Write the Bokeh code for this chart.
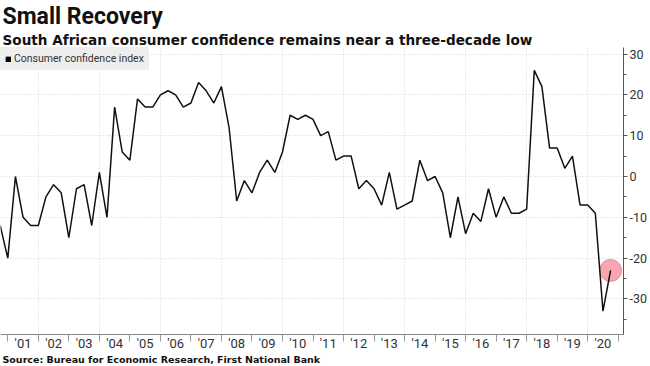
import math
from bokeh.plotting import figure
from bokeh.models import Range1d, FixedTicker, Title, Legend, LegendItem
from bokeh.embed import file_html
from bokeh.resources import INLINE

title_text = "Small Recovery"
subtitle_text = "South African consumer confidence remains near a three-decade low"
source_text = "Source: Bureau for Economic Research, First National Bank"
series_name = "Consumer confidence index"

start_year = 2000
start_quarter = 3
cci = [-12, -20, 0, -10, -12, -12, -5, -2, -4, -15, -3, -2, -12, 1, -10,
       17, 6, 4, 19, 17, 17, 20, 21, 20, 17, 18, 23, 21, 18, 22, 12, -6,
       -1, -4, 1, 4, 1, 6, 15, 14, 15, 14, 10, 11, 4, 5, 5, -3, -1, -3,
       -7, 1, -8, -7, -6, 4, -1, 0, -4, -15, -5, -14, -9, -11, -3, -10,
       -5, -9, -9, -8, 26, 22, 7, 7, 2, 5, -7, -7, -9, -33, -23]
year_labels = ["'01", "'02", "'03", "'04", "'05", "'06", "'07", "'08", "'09", "'10",
               "'11", "'12", "'13", "'14", "'15", "'16", "'17", "'18", "'19", "'20"]
label_years = list(range(2001, 2021))
y_ticks = [-30, -20, -10, 0, 10, 20, 30]
y_minor = [-35, -25, -15, -5, 5, 15, 25]

# quarter-end positions
xs = [start_year + (start_quarter + i) / 4 for i in range(len(cci))]

p = figure(width=650, height=366, output_backend="svg", toolbar_location=None,
           x_range=Range1d(2000.761, 2021.173), y_range=Range1d(-38.7, 31.6),
           y_axis_location="right", min_border_left=0, min_border_right=0,
           min_border_top=0, min_border_bottom=0)
p.outline_line_color = None
p.background_fill_color = "white"
p.border_fill_color = "white"

# titles
p.title.text = title_text
p.title.text_font = "Roboto"
p.title.text_font_size = "23px"
p.title.text_font_style = "bold"
p.title.text_color = "#111111"
p.title.align = "left"
p.title.standoff = 0
p.title.offset = 2
p.title.text_line_height = 0.85
sub = Title(text=subtitle_text, text_font="DejaVu Sans", text_font_size="13.6px",
            text_font_style="bold", text_color="#111111", align="left", standoff=0, offset=2,
            text_line_height=0.9)
p.add_layout(sub, "above")
src = Title(text=source_text, text_font="DejaVu Sans", text_font_size="9.5px",
            text_font_style="bold", text_color="#111111", align="left", standoff=0, offset=2,
            vertical_align="top", text_line_height=0.9)
p.add_layout(src, "below")

# grids
p.xgrid.ticker = FixedTicker(ticks=[y for y in range(2002, 2021, 2)])
p.xgrid.grid_line_color = "#d4d4d4"
p.xgrid.grid_line_dash = "1 2"
p.ygrid.ticker = FixedTicker(ticks=y_ticks)
p.ygrid.grid_line_color = "#d4d4d4"
p.ygrid.grid_line_dash = "1 2"

# x axis
xa = p.xaxis[0]
xa.ticker = FixedTicker(ticks=[y + 0.5 for y in label_years],
                        minor_ticks=[y for y in range(2001, 2022)])
xa.major_label_overrides = {y + 0.5: lab for y, lab in zip(label_years, year_labels)}
xa.major_tick_out = 0
xa.major_tick_in = 0
xa.minor_tick_out = 7
xa.minor_tick_in = 0
xa.minor_tick_line_color = "#999999"
xa.axis_line_color = "#888888"
xa.major_label_standoff = -6
xa.major_label_text_font = "Roboto"
xa.major_label_text_font_size = "13px"
xa.major_label_text_color = "#333333"

# y axis
ya = p.yaxis[0]
ya.ticker = FixedTicker(ticks=y_ticks, minor_ticks=y_minor)
ya.major_label_overrides = {t: str(t) for t in y_ticks}
ya.major_tick_out = 4
ya.major_tick_in = 0
ya.minor_tick_out = 3
ya.minor_tick_in = 0
ya.axis_line_color = "#555555"
ya.major_tick_line_color = "#555555"
ya.minor_tick_line_color = "#555555"
ya.major_label_standoff = 2
ya.major_label_text_font = "Roboto"
ya.major_label_text_font_size = "12.5px"
ya.major_label_text_color = "#333333"

# highlight circle on last point
p.scatter(x=[xs[-1]], y=[cci[-1]], size=22, fill_color="#f7808f", fill_alpha=0.7,
          line_color="#ee6070", line_alpha=0.6)

line = p.line(xs, cci, line_color="#111111", line_width=1.5)

swatch = p.quad(left=[math.nan], right=[math.nan], top=[math.nan], bottom=[math.nan],
                fill_color="black", line_color="black")

legend = Legend(items=[LegendItem(label=series_name, renderers=[swatch])],
                location="top_left", margin=0, padding=5, spacing=0,
                glyph_width=6, glyph_height=6, label_standoff=3,
                label_text_font="Roboto", label_text_font_size="10.5px",
                label_text_color="#333333", background_fill_color="#eeeeee",
                background_fill_alpha=1, border_line_alpha=0)
p.add_layout(legend)

open("out.html", "w").write(file_html(p, INLINE))
